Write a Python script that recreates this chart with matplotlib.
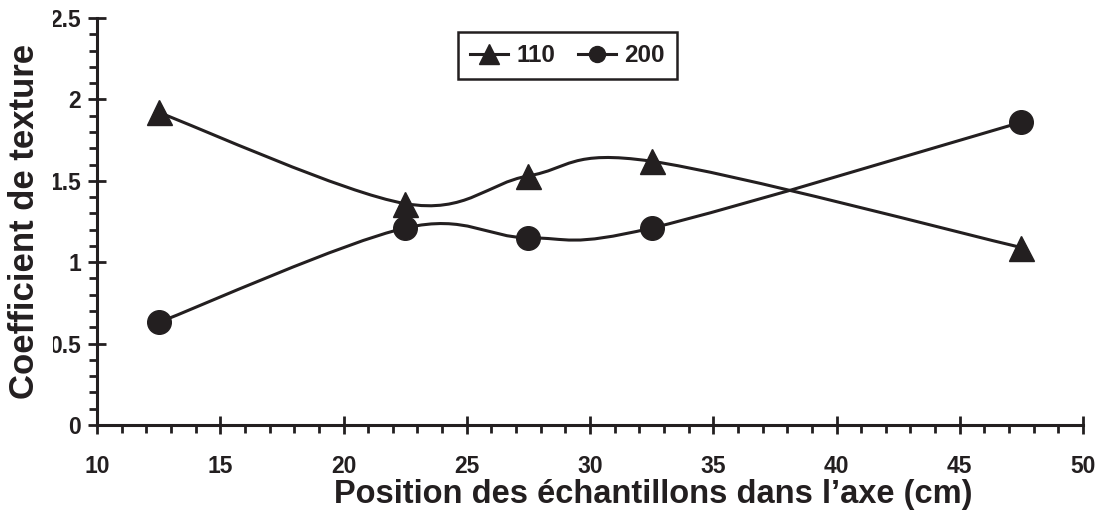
import numpy as np
import matplotlib
matplotlib.use('Agg')
import matplotlib.pyplot as plt
from matplotlib.path import Path
from matplotlib.patches import PathPatch
from matplotlib.lines import Line2D
from matplotlib.ticker import MultipleLocator, FuncFormatter
from matplotlib.transforms import Bbox

# texture coefficients
positions = [12.5, 22.5, 27.5, 32.5, 47.5]
coef_110 = [1.92, 1.36, 1.53, 1.62, 1.09]
coef_200 = [0.63, 1.21, 1.15, 1.21, 1.86]
series_labels = ['110', '200']

ink = '#231f20'
plt.rcParams['font.family'] = ['Liberation Sans', 'DejaVu Sans']
plt.rcParams['font.weight'] = 'bold'


def smooth_path(x, y):
    # excel-like smoothed line: catmull-rom bezier segments
    pts = np.column_stack([x, y]).astype(float)
    n = len(pts)
    verts = [pts[0]]
    codes = [Path.MOVETO]
    for i in range(n - 1):
        p0 = pts[i - 1] if i > 0 else pts[i]
        p1 = pts[i]
        p2 = pts[i + 1]
        p3 = pts[i + 2] if i + 2 < n else pts[i + 1]
        c1 = p1 + (p2 - p0) / 6.0
        c2 = p2 - (p3 - p1) / 6.0
        verts += [c1, c2, p2]
        codes += [Path.CURVE4] * 3
    return Path(verts, codes)


fig = plt.figure(figsize=(10.99, 5.17), dpi=100)
ax = fig.add_axes([97 / 1099, 92 / 517, 986 / 1099, 407 / 517])

for vals in (coef_110, coef_200):
    ax.add_patch(PathPatch(smooth_path(positions, vals), fill=False, lw=2.2,
                           edgecolor=ink, capstyle='round', joinstyle='round'))

ax.plot(positions, coef_110, ls='none', marker='^', ms=18, color=ink)
ax.plot(positions, coef_200, ls='none', marker='o', ms=17, color=ink)

ax.set_xlim(10, 50)
ax.set_ylim(0, 2.5)
ax.xaxis.set_major_locator(MultipleLocator(5))
ax.xaxis.set_minor_locator(MultipleLocator(1))
ax.yaxis.set_major_locator(MultipleLocator(0.5))
ax.yaxis.set_minor_locator(MultipleLocator(0.1))
ax.yaxis.set_major_formatter(FuncFormatter(lambda v, p: '%g' % v))

for s in ['top', 'right']:
    ax.spines[s].set_visible(False)
for s in ['left', 'bottom']:
    ax.spines[s].set_linewidth(2.2)
    ax.spines[s].set_color(ink)

ax.tick_params(which='major', direction='inout', length=13, width=2,
               color=ink, labelcolor=ink)
ax.tick_params(which='minor', direction='out', length=5.5, width=2, color=ink)
ax.tick_params(axis='x', which='major', pad=15, labelsize=16.5)
ax.tick_params(axis='y', which='major', pad=5, labelsize=16.5)

ax.set_xlabel("Position des échantillons dans l’axe (cm)", fontsize=23.5,
              fontweight='bold', color=ink)
ax.xaxis.set_label_coords(0.564, -0.132)
ax.set_ylabel("Coefficient de texture", fontsize=25, fontweight='bold',
              color=ink, labelpad=6)

handles = [
    Line2D([], [], color=ink, lw=2.2, marker='^', ms=14.5),
    Line2D([], [], color=ink, lw=2.2, marker='o', ms=11.5),
]
leg = ax.legend(handles, series_labels, ncol=2, loc='upper left',
                bbox_to_anchor=(458 / 1099, 1 - 32 / 517),
                bbox_transform=fig.transFigure, borderaxespad=0,
                fontsize=17.5, frameon=True, fancybox=False, framealpha=1,
                edgecolor=ink, handlelength=1.55, handletextpad=0.35,
                columnspacing=0.95, borderpad=0.5)
leg.get_frame().set_linewidth(1.8)
for t in leg.get_texts():
    t.set_color(ink)

# the y tick labels are cut at the left edge in the original
fig.canvas.draw()
clip = Bbox.from_extents(53, 0, 1099, 517)
for t in ax.yaxis.get_major_ticks():
    t.label1.set_clip_box(clip)
    t.label1.set_clip_on(True)

fig.savefig('out.png', dpi=100)
